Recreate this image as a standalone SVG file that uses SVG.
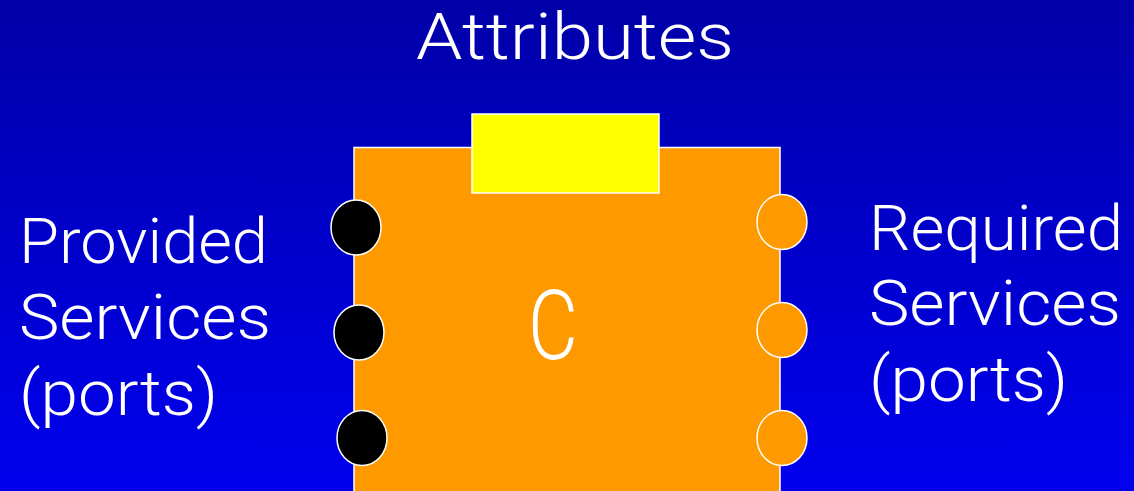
<svg xmlns="http://www.w3.org/2000/svg" width="1134" height="491" viewBox="0 0 1134 491">
  <defs>
    <linearGradient id="bg" x1="0" y1="0" x2="0" y2="1">
      <stop offset="0" stop-color="#0000A8"/>
      <stop offset="1" stop-color="#0000EE"/>
    </linearGradient>
    <style>
      .lbl { font-family: Roboto, "Liberation Sans", Arial, sans-serif; font-weight: 300; fill: #ffffff; }
      .edge { stroke: #ffffff; stroke-width: 1.5; }
      .provided { fill: #000000; }
      .required { fill: #FF9900; }
    </style>
  </defs>

  <rect x="0" y="0" width="1134" height="491" fill="url(#bg)"/>

  <!-- component body -->
  <g id="component">
    <rect class="edge" x="354" y="147.5" width="426" height="350" fill="#FF9900"/>
    <text class="lbl" x="528" y="359" font-size="96" textLength="50" lengthAdjust="spacingAndGlyphs">C</text>
  </g>

  <!-- attribute block -->
  <g id="attributes">
    <rect class="edge" x="472" y="114" width="187" height="79" fill="#FFFF00"/>
  </g>

  <!-- provided ports -->
  <g id="provided-ports">
    <ellipse class="edge provided" cx="356" cy="227.5" rx="25" ry="27.5"/>
    <ellipse class="edge provided" cx="359" cy="332.5" rx="25" ry="27.5"/>
    <ellipse class="edge provided" cx="362" cy="438" rx="25" ry="27.5"/>
  </g>

  <!-- required ports -->
  <g id="required-ports">
    <ellipse class="edge required" cx="782" cy="222" rx="25" ry="27.5"/>
    <ellipse class="edge required" cx="782" cy="330" rx="25" ry="27.5"/>
    <ellipse class="edge required" cx="782" cy="438" rx="25" ry="27.5"/>
  </g>

  <!-- labels -->
  <g id="label-attributes">
    <text class="lbl" x="416" y="59" font-size="64" textLength="318" lengthAdjust="spacingAndGlyphs">Attributes</text>
  </g>
  <g id="label-provided">
    <text class="lbl" x="19" y="263" font-size="63" textLength="249" lengthAdjust="spacingAndGlyphs">Provided</text>
    <text class="lbl" x="19" y="339" font-size="63" textLength="252" lengthAdjust="spacingAndGlyphs">Services</text>
    <text class="lbl" x="19" y="415" font-size="63" textLength="199" lengthAdjust="spacingAndGlyphs">(ports)</text>
  </g>
  <g id="label-required">
    <text class="lbl" x="869" y="250" font-size="63" textLength="254" lengthAdjust="spacingAndGlyphs">Required</text>
    <text class="lbl" x="869" y="325" font-size="63" textLength="252" lengthAdjust="spacingAndGlyphs">Services</text>
    <text class="lbl" x="869" y="401" font-size="63" textLength="199" lengthAdjust="spacingAndGlyphs">(ports)</text>
  </g>
</svg>
